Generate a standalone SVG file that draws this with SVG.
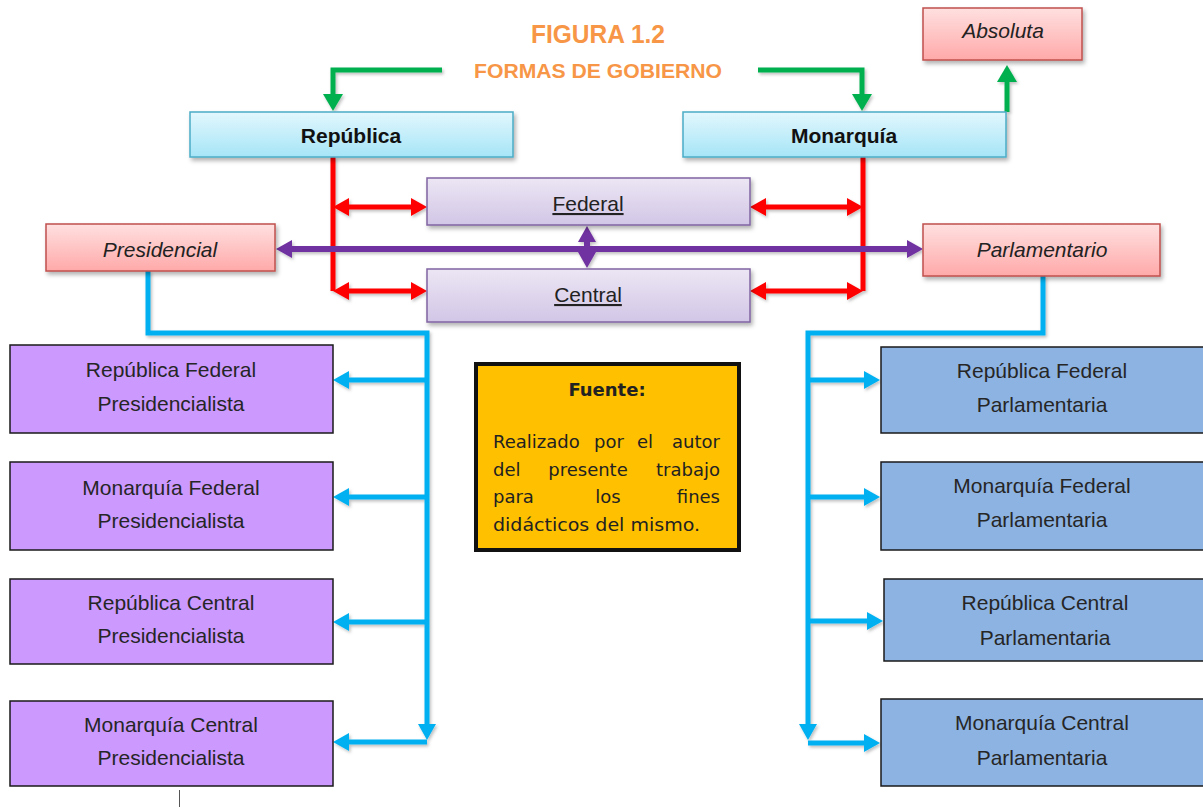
<svg xmlns="http://www.w3.org/2000/svg" width="1203" height="807" viewBox="0 0 1203 807">
<style>
.t{font-family:"Liberation Sans",Arial,sans-serif;fill:#262626;text-anchor:middle}
.b{font-weight:bold;font-size:21px;fill:#111}
.i{font-style:italic;font-size:21px;fill:#222}
.u{font-size:21px;text-decoration:underline;fill:#222}
.n{font-size:21px}
.title{font-family:"Liberation Sans",Arial,sans-serif;font-weight:bold;fill:#F79646;text-anchor:middle}
.f{font-family:"DejaVu Sans",sans-serif;font-size:18px;fill:#222}
.blue{fill:url(#gBlue);stroke:#4BACC6;stroke-width:1.5}
.pink{fill:url(#gPink);stroke:#C0504D;stroke-width:1.5}
.lav{fill:url(#gLav);stroke:#8064A2;stroke-width:1.5}
.pp{fill:#CC99FF;stroke:#1a1a1a;stroke-width:1.5}
.bb{fill:#8DB3E2;stroke:#1a1a1a;stroke-width:1.5}
.sh{filter:url(#shadow)}
.cG{stroke:#00B050;stroke-width:5;fill:none}
.cR{stroke:#FF0000;stroke-width:5;fill:none}
.cP{stroke:#7030A0;stroke-width:6;fill:none}
.cB{stroke:#00B0F0;stroke-width:5;fill:none}
</style>
<defs>
<linearGradient id="gBlue" x1="0" y1="0" x2="0" y2="1"><stop offset="0" stop-color="#E2F7FD"/><stop offset="1" stop-color="#A6E5F7"/></linearGradient>
<linearGradient id="gPink" x1="0" y1="0" x2="0" y2="1"><stop offset="0" stop-color="#FFE0E0"/><stop offset="1" stop-color="#FFA9A9"/></linearGradient>
<linearGradient id="gLav" x1="0" y1="0" x2="0" y2="1"><stop offset="0" stop-color="#ECE6F4"/><stop offset="1" stop-color="#D2C6E6"/></linearGradient>
<filter id="shadow" x="-10%" y="-20%" width="130%" height="160%"><feDropShadow dx="2" dy="3" stdDeviation="2" flood-color="#000" flood-opacity="0.3"/></filter>
<filter id="lshadow" x="-10%" y="-10%" width="130%" height="130%"><feDropShadow dx="1.5" dy="2" stdDeviation="1.5" flood-color="#000" flood-opacity="0.25"/></filter>
<marker id="aG" markerUnits="userSpaceOnUse" markerWidth="18" markerHeight="20" refX="6" refY="10" orient="auto-start-reverse"><path d="M0,0 L17,10 L0,20 z" fill="#00B050"/></marker>
<marker id="aR" markerUnits="userSpaceOnUse" markerWidth="18" markerHeight="20" refX="6" refY="10" orient="auto-start-reverse"><path d="M0,1 L16,10 L0,19 z" fill="#FF0000"/></marker>
<marker id="aP" markerUnits="userSpaceOnUse" markerWidth="18" markerHeight="20" refX="6" refY="10" orient="auto-start-reverse"><path d="M0,1 L16,10 L0,19 z" fill="#7030A0"/></marker>
<marker id="aB" markerUnits="userSpaceOnUse" markerWidth="18" markerHeight="20" refX="6" refY="10" orient="auto-start-reverse"><path d="M0,1 L16,10 L0,19 z" fill="#00B0F0"/></marker>
</defs>
<rect width="1203" height="807" fill="#fff"/>

<g id="title">
<text class="title" x="598" y="43" font-size="25" textLength="134" lengthAdjust="spacingAndGlyphs">FIGURA 1.2</text>
<text class="title" x="598" y="78" font-size="20" textLength="248" lengthAdjust="spacingAndGlyphs">FORMAS DE GOBIERNO</text>
</g>

<g id="connectors" filter="url(#lshadow)">
<path class="cG" d="M442,70 H333 V100" marker-end="url(#aG)"/>
<path class="cG" d="M758,70 H862 V100" marker-end="url(#aG)"/>
<path class="cG" d="M1007,112 V76" marker-end="url(#aG)"/>
<path class="cR" d="M333,157 V291"/>
<path class="cR" d="M343,207 H417" marker-start="url(#aR)" marker-end="url(#aR)"/>
<path class="cR" d="M343,291 H417" marker-start="url(#aR)" marker-end="url(#aR)"/>
<path class="cR" d="M863,157 V291"/>
<path class="cR" d="M760,207 H853" marker-start="url(#aR)" marker-end="url(#aR)"/>
<path class="cR" d="M760,291 H853" marker-start="url(#aR)" marker-end="url(#aR)"/>
<path class="cP" d="M286,249 H913" marker-start="url(#aP)" marker-end="url(#aP)"/>
<path class="cP" d="M587,236 V258" marker-start="url(#aP)" marker-end="url(#aP)"/>
<path class="cB" d="M148,271 V333 H427 V730" marker-end="url(#aB)"/>
<path class="cB" d="M427,380 H343" marker-end="url(#aB)"/>
<path class="cB" d="M427,497 H343" marker-end="url(#aB)"/>
<path class="cB" d="M427,622 H343" marker-end="url(#aB)"/>
<path class="cB" d="M427,742 H343" marker-end="url(#aB)"/>
<path class="cB" d="M1043,276 V333 H808 V730" marker-end="url(#aB)"/>
<path class="cB" d="M808,380 H870" marker-end="url(#aB)"/>
<path class="cB" d="M808,497 H870" marker-end="url(#aB)"/>
<path class="cB" d="M808,621 H873" marker-end="url(#aB)"/>
<path class="cB" d="M808,743 H870" marker-end="url(#aB)"/>
</g>

<g id="republica"><rect class="blue sh" x="190" y="112" width="323" height="45"/><text class="t b" x="351" y="143">República</text></g>
<g id="monarquia"><rect class="blue sh" x="683" y="112" width="323" height="45"/><text class="t b" x="844" y="143">Monarquía</text></g>
<g id="absoluta"><rect class="pink sh" x="923" y="8" width="159" height="52"/><text class="t i" x="1003" y="38">Absoluta</text></g>
<g id="federal"><rect class="lav sh" x="427" y="178" width="323" height="47"/><text class="t u" x="588" y="211">Federal</text></g>
<g id="central"><rect class="lav sh" x="427" y="269" width="323" height="53"/><text class="t u" x="588" y="302">Central</text></g>
<g id="presidencial"><rect class="pink sh" x="46" y="224" width="229" height="47"/><text class="t i" x="160" y="257">Presidencial</text></g>
<g id="parlamentario"><rect class="pink sh" x="923" y="224" width="237" height="52"/><text class="t i" x="1042" y="257">Parlamentario</text></g>

<g id="rfp"><rect class="pp" x="10" y="345" width="323" height="88"/><text class="t n" x="171" y="377">República Federal</text><text class="t n" x="171" y="411">Presidencialista</text></g>
<g id="mfp"><rect class="pp" x="10" y="462" width="323" height="88"/><text class="t n" x="171" y="495">Monarquía Federal</text><text class="t n" x="171" y="528">Presidencialista</text></g>
<g id="rcp"><rect class="pp" x="10" y="579" width="323" height="85"/><text class="t n" x="171" y="610">República Central</text><text class="t n" x="171" y="643">Presidencialista</text></g>
<g id="mcp"><rect class="pp" x="10" y="701" width="323" height="85"/><text class="t n" x="171" y="732">Monarquía Central</text><text class="t n" x="171" y="765">Presidencialista</text></g>

<g id="rfpa"><rect class="bb" x="881" y="347" width="330" height="86"/><text class="t n" x="1042" y="378">República Federal</text><text class="t n" x="1042" y="412">Parlamentaria</text></g>
<g id="mfpa"><rect class="bb" x="881" y="462" width="330" height="88"/><text class="t n" x="1042" y="493">Monarquía Federal</text><text class="t n" x="1042" y="527">Parlamentaria</text></g>
<g id="rcpa"><rect class="bb" x="884" y="579" width="330" height="82"/><text class="t n" x="1045" y="610">República Central</text><text class="t n" x="1045" y="645">Parlamentaria</text></g>
<g id="mcpa"><rect class="bb" x="881" y="699" width="330" height="87"/><text class="t n" x="1042" y="730">Monarquía Central</text><text class="t n" x="1042" y="765">Parlamentaria</text></g>

<g id="fuente">
<rect x="476" y="364" width="263" height="186" fill="#FFC000" stroke="#111" stroke-width="4"/>
<text class="f" x="607" y="396" text-anchor="middle" font-weight="bold">Fuente:</text>
<text class="f" y="448"><tspan x="493">Realizado</tspan><tspan x="609" text-anchor="middle">por</tspan><tspan x="645" text-anchor="middle">el</tspan><tspan x="720" text-anchor="end">autor</tspan></text>
<text class="f" y="476"><tspan x="493">del</tspan><tspan x="588" text-anchor="middle">presente</tspan><tspan x="720" text-anchor="end">trabajo</tspan></text>
<text class="f" y="503"><tspan x="493">para</tspan><tspan x="608" text-anchor="middle">los</tspan><tspan x="720" text-anchor="end">fines</tspan></text>
<text class="f" x="493" y="531" textLength="207" lengthAdjust="spacingAndGlyphs">didácticos del mismo.</text>
</g>

<line x1="179.5" y1="790" x2="179.5" y2="807" stroke="#555" stroke-width="1"/>
</svg>
